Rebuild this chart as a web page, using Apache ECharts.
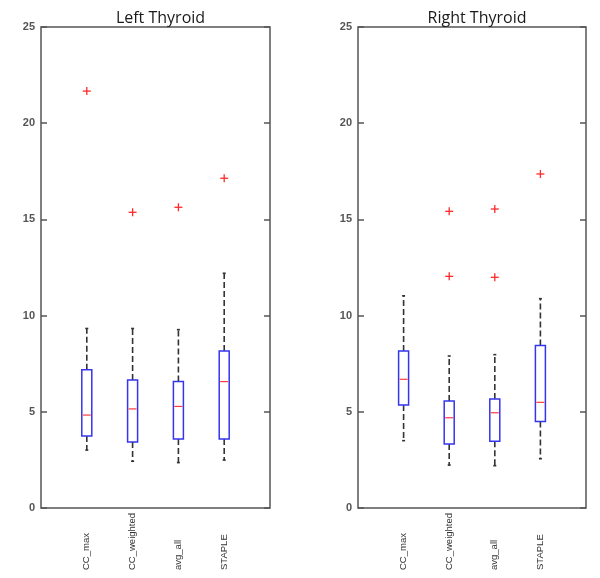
<!DOCTYPE html>
<html>
<head>
<meta charset="utf-8">
<script src="https://cdn.jsdelivr.net/npm/echarts@6/dist/echarts.min.js"></script>
<style>html,body{margin:0;padding:0;background:#fff}#c{width:600px;height:578px}</style>
</head>
<body>
<div id="c"></div>
<script>
const categories = ['CC_max', 'CC_weighted', 'avg_all', 'STAPLE'];
const titles = ['Left Thyroid', 'Right Thyroid'];
const yTicks = [0, 5, 10, 15, 20, 25];
// [lower whisker, Q1, median, Q3, upper whisker]
const leftBoxes = [
  [3.01, 3.74, 4.83, 7.19, 9.33],
  [2.43, 3.43, 5.15, 6.65, 9.33],
  [2.36, 3.59, 5.28, 6.58, 9.27],
  [2.49, 3.59, 6.57, 8.16, 12.2]
];
const rightBoxes = [
  [3.5, 5.35, 6.69, 8.16, 11.03],
  [2.23, 3.33, 4.69, 5.56, 7.9],
  [2.2, 3.47, 4.95, 5.67, 7.97],
  [2.56, 4.49, 5.49, 8.44, 10.88]
];
// [category index, value]
const leftOutliers = [[0, 21.67], [1, 15.37], [2, 15.63], [3, 17.14]];
const rightOutliers = [[1, 15.42], [1, 12.04], [2, 15.54], [2, 11.99], [3, 17.36]];

const chart = echarts.init(document.getElementById('c'));

function boxRender(params, api) {
  const x = api.value(0);
  const lo = api.coord([x, api.value(1)]);
  const q1 = api.coord([x, api.value(2)]);
  const md = api.coord([x, api.value(3)]);
  const q3 = api.coord([x, api.value(4)]);
  const hi = api.coord([x, api.value(5)]);
  const cx = lo[0];
  const hw = 5;
  const cw = 1.5;
  const dash = {stroke: '#333', lineWidth: 1.6, lineDash: [6, 3]};
  const solid = {stroke: '#333', lineWidth: 1.6};
  return {
    type: 'group',
    children: [
      {type: 'line', shape: {x1: cx, y1: q3[1], x2: cx, y2: hi[1]}, style: dash},
      {type: 'line', shape: {x1: cx, y1: q1[1], x2: cx, y2: lo[1]}, style: dash},
      {type: 'line', shape: {x1: cx - cw, y1: hi[1], x2: cx + cw, y2: hi[1]}, style: solid},
      {type: 'line', shape: {x1: cx - cw, y1: lo[1], x2: cx + cw, y2: lo[1]}, style: solid},
      {type: 'rect', shape: {x: cx - hw, y: q3[1], width: 2 * hw, height: q1[1] - q3[1]},
        style: {fill: '#fff', stroke: '#3535f0', lineWidth: 1.5}},
      {type: 'line', shape: {x1: cx - hw + 1, y1: md[1], x2: cx + hw - 1, y2: md[1]},
        style: {stroke: '#ff3a3a', lineWidth: 1.2}}
    ]
  };
}

function outRender(params, api) {
  const p = api.coord([api.value(0), api.value(1)]);
  const s = 4;
  const st = {stroke: '#ff2a2a', lineWidth: 1.3};
  return {
    type: 'group',
    children: [
      {type: 'line', shape: {x1: p[0] - s, y1: p[1], x2: p[0] + s, y2: p[1]}, style: st},
      {type: 'line', shape: {x1: p[0], y1: p[1] - s, x2: p[0], y2: p[1] + s}, style: st}
    ]
  };
}

const grids = [
  {left: 41, width: 229, top: 27, height: 481},
  {left: 358, width: 228, top: 27, height: 481}
];

const xAxes = [], yAxes = [], series = [], titleArr = [];
grids.forEach((g, i) => {
  g.show = true;
  g.borderColor = '#555';
  g.borderWidth = 1.5;
  titleArr.push({
    text: titles[i], left: g.left + g.width / 2, top: 5, textAlign: 'center',
    textStyle: {fontFamily: 'Open Sans', fontSize: 16, fontWeight: 'normal', color: '#1a1a1a'}
  });
  xAxes.push({
    type: 'value', gridIndex: i, min: 0, max: 5, interval: 1,
    axisLine: {show: false}, axisTick: {show: false}, splitLine: {show: false},
    axisLabel: {
      rotate: 90, align: 'left', margin: 62, fontSize: 9.5,
      fontFamily: "'Liberation Sans Narrow', 'Arial Narrow', 'Liberation Sans', sans-serif", color: '#333',
      formatter: v => categories[v - 1] || ''
    }
  });
  yAxes.push({
    type: 'value', gridIndex: i, min: yTicks[0], max: yTicks[yTicks.length - 1], interval: 5,
    position: 'left',
    axisLine: {show: false}, splitLine: {show: false},
    axisTick: {show: true, inside: true, length: 6, lineStyle: {color: '#555', width: 1.5}},
    axisLabel: {margin: 6, fontSize: 11, fontWeight: 'bold', color: '#555', fontFamily: 'Liberation Sans'}
  });
  yAxes.push({
    type: 'value', gridIndex: i, min: yTicks[0], max: yTicks[yTicks.length - 1], interval: 5,
    position: 'right',
    axisLine: {show: false}, splitLine: {show: false},
    axisTick: {show: true, inside: true, length: 6, lineStyle: {color: '#555', width: 1.5}},
    axisLabel: {show: false}
  });
  const boxes = i === 0 ? leftBoxes : rightBoxes;
  const outs = i === 0 ? leftOutliers : rightOutliers;
  series.push({
    type: 'custom', xAxisIndex: i, yAxisIndex: i * 2,
    data: boxes.map((b, k) => [k + 1].concat(b)),
    renderItem: boxRender, silent: true
  });
  series.push({
    type: 'custom', xAxisIndex: i, yAxisIndex: i * 2,
    data: outs.map(o => [o[0] + 1, o[1]]),
    renderItem: outRender, silent: true
  });
});

chart.setOption({
  animation: false,
  backgroundColor: '#fff',
  title: titleArr,
  grid: grids,
  xAxis: xAxes,
  yAxis: yAxes,
  series: series
});
</script>
</body>
</html>
